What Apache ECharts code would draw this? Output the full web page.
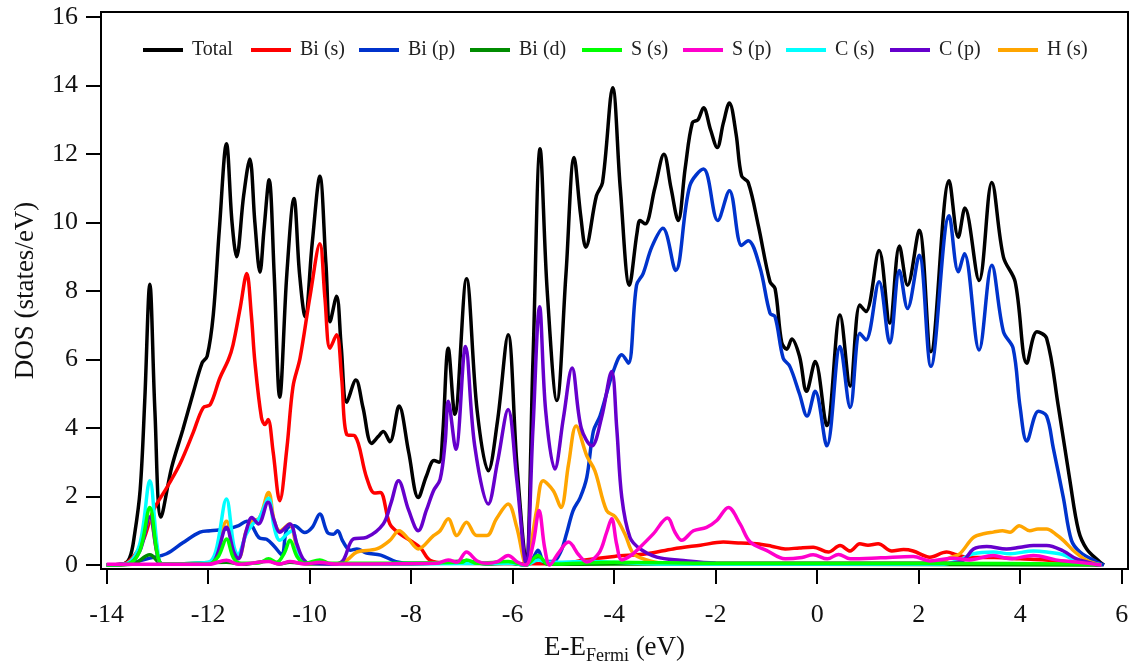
<!DOCTYPE html>
<html><head><meta charset="utf-8">
<script src="https://cdn.jsdelivr.net/npm/echarts@6/dist/echarts.min.js"></script>
<style>html,body{margin:0;padding:0;background:#fff}#c{width:1137px;height:670px}</style>
</head><body><div id="c"></div>
<script>
const seriesNames = ['Total','Bi (s)','Bi (p)','Bi (d)','S (s)','S (p)','C (s)','C (p)','H (s)'];
const seriesColors = ['#000000','#ff0000','#0033cc','#008c00','#00ff00','#ff00cc','#00ffff','#6600cc','#ffa500'];
const xTicks = [-14,-12,-10,-8,-6,-4,-2,0,2,4,6];
const yTicks = [0,2,4,6,8,10,12,14,16];

const dosTotal = [[-14,0],[-13.7,0.02],[-13.55,0.2],[-13.45,0.9],[-13.34,2.2],[-13.25,4.8],[-13.15,8.2],[-13.05,4.5],[-12.93,1.4],[-12.72,2.85],[-12.5,3.95],[-12.3,5.0],[-12.12,5.9],[-12.02,6.1],[-11.9,7.3],[-11.78,9.8],[-11.64,12.3],[-11.53,10.0],[-11.44,9.0],[-11.3,10.8],[-11.18,11.85],[-11.08,10.0],[-10.98,8.55],[-10.9,9.8],[-10.8,11.25],[-10.7,8.5],[-10.59,4.9],[-10.45,8.5],[-10.31,10.7],[-10.2,8.5],[-10.09,7.25],[-9.95,9.4],[-9.8,11.35],[-9.68,8.8],[-9.6,7.1],[-9.47,7.85],[-9.38,6.4],[-9.27,4.75],[-9.09,5.4],[-8.95,4.6],[-8.78,3.55],[-8.65,3.75],[-8.55,3.9],[-8.42,3.6],[-8.24,4.64],[-8.05,3.3],[-7.86,1.97],[-7.7,2.6],[-7.55,3.05],[-7.45,3.0],[-7.38,3.8],[-7.27,6.33],[-7.14,4.4],[-6.91,8.36],[-6.7,4.5],[-6.48,2.75],[-6.3,4.2],[-6.09,6.72],[-5.92,3.0],[-5.74,0.15],[-5.6,6.0],[-5.46,12.15],[-5.32,8.0],[-5.13,4.8],[-4.95,8.5],[-4.79,11.9],[-4.66,10.2],[-4.56,9.28],[-4.35,10.78],[-4.23,11.17],[-4.03,13.93],[-3.88,11.0],[-3.7,8.17],[-3.55,9.7],[-3.49,10.06],[-3.39,9.96],[-3.2,11.0],[-3.02,11.99],[-2.88,11.0],[-2.74,10.06],[-2.6,11.6],[-2.46,12.91],[-2.35,13.0],[-2.24,13.35],[-2.1,12.7],[-1.97,12.19],[-1.85,12.9],[-1.73,13.49],[-1.6,12.6],[-1.49,11.36],[-1.36,11.17],[-1.16,9.91],[-0.93,8.27],[-0.83,8.07],[-0.7,6.5],[-0.6,6.3],[-0.5,6.6],[-0.35,6.1],[-0.21,5.07],[-0.04,5.94],[0.19,4.07],[0.45,7.3],[0.65,5.22],[0.84,7.59],[0.96,7.4],[1.22,9.18],[1.43,7.06],[1.62,9.31],[1.78,8.17],[2.01,9.77],[2.24,6.23],[2.6,11.22],[2.78,9.57],[2.91,10.42],[3.19,8.31],[3.44,11.17],[3.67,8.99],[3.9,8.27],[4.13,5.89],[4.33,6.81],[4.52,6.62],[4.75,4.64],[4.98,2.46],[5.15,1.0],[5.31,0.47],[5.57,0.09],[5.65,0]];

const dosBiS = [[-14,0],[-13.7,0.02],[-13.5,0.2],[-13.28,0.72],[-13.08,1.59],[-12.8,2.3],[-12.56,2.94],[-12.3,3.85],[-12.1,4.59],[-11.96,4.68],[-11.77,5.46],[-11.6,6.0],[-11.51,6.43],[-11.37,7.5],[-11.24,8.51],[-11.15,7.3],[-11.08,5.94],[-10.95,4.3],[-10.88,4.1],[-10.82,4.25],[-10.72,3.3],[-10.59,1.88],[-10.45,3.4],[-10.33,5.2],[-10.19,6.04],[-9.99,7.88],[-9.8,9.38],[-9.7,7.8],[-9.6,6.33],[-9.47,6.72],[-9.37,5.46],[-9.27,3.81],[-9.11,3.77],[-8.88,2.56],[-8.72,2.1],[-8.61,2.12],[-8.42,1.2],[-8.22,0.91],[-7.83,0.52],[-7.63,0.14],[-7.3,0.06],[-5,0.04],[-4.61,0.14],[-4.0,0.25],[-3.36,0.33],[-2.84,0.47],[-2.3,0.58],[-1.85,0.67],[-1.5,0.64],[-1.19,0.62],[-0.9,0.55],[-0.63,0.47],[-0.35,0.5],[-0.08,0.52],[0.22,0.38],[0.45,0.57],[0.65,0.41],[0.84,0.62],[1.0,0.58],[1.2,0.62],[1.47,0.41],[1.7,0.45],[1.89,0.41],[2.22,0.23],[2.55,0.38],[2.75,0.3],[3.0,0.22],[3.5,0.22],[4.0,0.18],[4.5,0.15],[5.0,0.08],[5.6,0]];

const dosBiP = [[-14,0],[-13.7,0.02],[-13.4,0.1],[-13.15,0.2],[-12.82,0.33],[-12.5,0.65],[-12.16,0.96],[-11.96,1.0],[-11.64,1.05],[-11.4,1.15],[-11.24,1.28],[-11.14,1.15],[-11.0,0.8],[-10.85,0.75],[-10.7,0.55],[-10.55,0.3],[-10.45,1.05],[-10.3,1.15],[-10.1,0.95],[-9.95,1.1],[-9.8,1.49],[-9.65,0.95],[-9.53,0.9],[-9.45,1.0],[-9.35,0.7],[-9.2,0.43],[-9.07,0.47],[-8.88,0.35],[-8.6,0.29],[-8.3,0.1],[-8.0,0.05],[-6.0,0.05],[-5.75,0.0],[-5.6,0.2],[-5.5,0.43],[-5.38,0.1],[-5.2,0.1],[-5.05,0.4],[-4.94,0.91],[-4.81,1.59],[-4.67,1.97],[-4.54,2.56],[-4.41,3.91],[-4.28,4.35],[-4.12,5.17],[-4.02,5.65],[-3.85,6.14],[-3.72,5.89],[-3.56,8.17],[-3.43,8.51],[-3.26,9.28],[-3.04,9.83],[-2.79,8.6],[-2.51,11.07],[-2.24,11.56],[-1.96,10.06],[-1.73,10.93],[-1.49,9.33],[-1.36,9.47],[-1.13,8.7],[-0.93,7.35],[-0.83,7.25],[-0.67,6.04],[-0.54,5.8],[-0.35,5.0],[-0.2,4.35],[-0.04,5.07],[0.19,3.48],[0.45,6.38],[0.65,4.6],[0.84,6.77],[0.96,6.57],[1.22,8.27],[1.43,6.48],[1.62,8.6],[1.78,7.49],[2.01,9.04],[2.24,5.8],[2.6,10.2],[2.78,8.56],[2.9,9.09],[3.19,6.28],[3.44,8.75],[3.67,6.81],[3.86,6.33],[4.0,4.59],[4.13,3.62],[4.36,4.49],[4.52,4.35],[4.65,3.43],[4.85,1.97],[5.01,0.72],[5.18,0.38],[5.51,0.09],[5.65,0]];

const dosBiD = [[-14,0],[-13.5,0.02],[-13.15,0.3],[-12.9,0.02],[-11.64,0.08],[-11.3,0.02],[-10.81,0.12],[-10.6,0.03],[-10.39,0.08],[-10.0,0.03],[-8.0,0.02],[-6.91,0.12],[-6.5,0.03],[-6.09,0.06],[-5.74,0],[-5.5,0.18],[-5.3,0.02],[-4.0,0.03],[0,0.02],[5.6,0]];

const dosSS = [[-14,0],[-13.6,0.02],[-13.35,0.4],[-13.15,1.68],[-13.0,0.3],[-12.9,0.03],[-12.0,0.03],[-11.8,0.25],[-11.64,0.76],[-11.5,0.2],[-11.35,0.05],[-11.0,0.06],[-10.81,0.18],[-10.65,0.08],[-10.5,0.35],[-10.39,0.72],[-10.25,0.25],[-10.1,0.05],[-9.8,0.15],[-9.6,0.05],[-7.0,0.08],[-6.91,0.15],[-6.7,0.05],[-6.09,0.1],[-5.74,0],[-5.5,0.28],[-5.3,0.03],[-4.0,0.08],[-2.0,0.05],[2.0,0.05],[5.5,0.02],[5.6,0]];

const dosSP = [[-14,0.02],[-12,0.02],[-11.64,0.14],[-11.4,0.02],[-10.81,0.1],[-10.6,0.03],[-10.39,0.1],[-10.1,0.03],[-9.8,0.08],[-9.5,0.03],[-7.5,0.05],[-7.27,0.15],[-7.1,0.08],[-6.91,0.38],[-6.7,0.12],[-6.5,0.05],[-6.3,0.1],[-6.09,0.28],[-5.9,0.08],[-5.74,0],[-5.6,0.6],[-5.48,1.59],[-5.37,0.5],[-5.27,0],[-5.1,0.35],[-4.9,0.67],[-4.7,0.3],[-4.54,0.09],[-4.3,0.35],[-4.15,0.95],[-4.05,1.35],[-3.95,0.6],[-3.85,0.15],[-3.65,0.3],[-3.49,0.52],[-3.23,0.91],[-2.95,1.37],[-2.8,0.95],[-2.67,0.72],[-2.44,1.0],[-2.18,1.1],[-1.98,1.3],[-1.75,1.68],[-1.52,1.2],[-1.32,0.67],[-1.0,0.43],[-0.63,0.18],[-0.3,0.22],[-0.08,0.3],[0.2,0.18],[0.42,0.31],[0.65,0.18],[1.25,0.21],[1.89,0.25],[2.22,0.12],[2.68,0.2],[3.0,0.15],[3.47,0.28],[3.8,0.18],[4.26,0.28],[4.7,0.15],[5.1,0.09],[5.6,0]];

const dosCS = [[-14,0],[-13.6,0.05],[-13.35,0.6],[-13.15,2.46],[-13.0,0.5],[-12.9,0.03],[-12.0,0.08],[-11.85,0.4],[-11.64,1.93],[-11.5,0.6],[-11.42,0.3],[-11.25,0.9],[-11.12,1.2],[-11.0,1.35],[-10.81,1.95],[-10.7,1.1],[-10.59,0.72],[-10.45,0.9],[-10.35,1.0],[-10.2,0.3],[-10.05,0.05],[-9.0,0.03],[-6.0,0.05],[-5.74,0],[-5.5,0.15],[-5.3,0.08],[-4.5,0.1],[-4.0,0.08],[-3.0,0.03],[2.5,0.03],[2.8,0.15],[3.08,0.33],[3.47,0.38],[3.8,0.33],[4.26,0.41],[4.52,0.38],[4.85,0.3],[5.1,0.12],[5.5,0.02],[5.6,0]];

const dosCP = [[-14,0],[-13.6,0.02],[-13.35,0.4],[-13.15,1.4],[-13.0,0.3],[-12.9,0.02],[-12.0,0.02],[-11.85,0.2],[-11.64,1.1],[-11.5,0.4],[-11.41,0.18],[-11.25,1.0],[-11.14,1.39],[-11.01,1.2],[-10.82,1.83],[-10.7,1.3],[-10.59,0.96],[-10.39,1.2],[-10.25,0.6],[-10.13,0.18],[-10.0,0.05],[-9.5,0.03],[-9.34,0.14],[-9.14,0.76],[-8.88,0.81],[-8.55,1.2],[-8.4,1.8],[-8.25,2.46],[-8.05,1.6],[-7.86,1.0],[-7.7,1.6],[-7.56,2.17],[-7.43,2.5],[-7.33,3.6],[-7.27,4.78],[-7.12,3.38],[-6.93,6.38],[-6.75,3.5],[-6.48,1.78],[-6.3,3.0],[-6.09,4.54],[-5.92,2.5],[-5.74,0.05],[-5.6,4.0],[-5.47,7.54],[-5.35,4.5],[-5.17,2.8],[-5.0,4.3],[-4.83,5.75],[-4.65,4.0],[-4.44,3.48],[-4.25,4.3],[-4.05,5.65],[-3.95,4.0],[-3.85,1.97],[-3.69,0.81],[-3.49,0.47],[-3.16,0.23],[-2.7,0.14],[-2.0,0.06],[2.5,0.05],[2.88,0.14],[3.08,0.47],[3.34,0.54],[3.73,0.47],[4.0,0.52],[4.26,0.57],[4.52,0.57],[4.85,0.41],[5.11,0.18],[5.5,0.02],[5.6,0]];

const dosHS = [[-14,0],[-13.6,0.03],[-13.35,0.5],[-13.15,1.35],[-13.0,0.3],[-12.9,0.02],[-12.0,0.03],[-11.85,0.3],[-11.64,1.28],[-11.5,0.4],[-11.4,0.2],[-11.25,1.0],[-11.14,1.3],[-11.0,1.35],[-10.81,2.12],[-10.7,1.3],[-10.59,1.0],[-10.4,1.2],[-10.25,0.5],[-10.1,0.05],[-9.5,0.03],[-9.27,0.14],[-9.07,0.38],[-8.68,0.47],[-8.42,0.72],[-8.24,1.0],[-8.05,0.75],[-7.86,0.47],[-7.56,0.86],[-7.43,1.0],[-7.27,1.35],[-7.1,0.86],[-6.91,1.25],[-6.71,0.86],[-6.51,0.86],[-6.32,1.35],[-6.09,1.78],[-5.92,1.1],[-5.74,0.02],[-5.53,1.59],[-5.4,2.46],[-5.2,2.17],[-5.05,1.68],[-4.9,2.94],[-4.75,4.06],[-4.54,3.19],[-4.38,2.75],[-4.15,1.59],[-3.98,1.41],[-3.79,0.91],[-3.62,0.33],[-3.36,0.15],[-3.0,0.05],[2.4,0.05],[2.6,0.2],[2.81,0.33],[3.08,0.81],[3.3,0.92],[3.47,0.96],[3.65,1.0],[3.8,0.96],[3.98,1.15],[4.19,1.0],[4.35,1.05],[4.52,1.05],[4.7,0.9],[4.85,0.72],[5.08,0.38],[5.31,0.14],[5.6,0]];

const seriesData = [dosTotal,dosBiS,dosBiP,dosBiD,dosSS,dosSP,dosCS,dosCP,dosHS];
const drawOrder = [0,1,2,3,8,6,7,4,5];
const legendLeft = [143,251,359,470,582,683,786,890,998];

const FONT = 'Liberation Serif';
const chart = echarts.init(document.getElementById('c'), null, {renderer:'canvas'});

const series = drawOrder.map((i, k) => ({
  name: seriesNames[i], type: 'line', data: seriesData[i],
  smooth: 0.35, showSymbol: false, symbol: 'none',
  lineStyle: {color: seriesColors[i], width: 3.5},
  itemStyle: {color: seriesColors[i]},
  z: 2 + k, animation: false
}));

const legends = seriesNames.map((n, i) => ({
  data: [n], left: legendLeft[i], top: 40, icon: 'rect', itemWidth: 40, itemHeight: 4,
  textStyle: {fontFamily: FONT, fontSize: 20, color: '#222', padding: [0,0,0,4]},
  selectedMode: false, padding: 0
}));

chart.setOption({
  backgroundColor: '#fff',
  animation: false,
  grid: {left: 101, right: 9, top: 12, bottom: 98, show: true, borderColor: '#000', borderWidth: 2, containLabel: false},
  legend: legends,
  xAxis: {
    type: 'value', min: -14.112, max: 6.124,
    axisLine: {show: true, onZero: false, lineStyle: {color: '#000', width: 2}},
    axisTick: {show: true, inside: false, length: 15, customValues: xTicks, lineStyle: {color: '#000', width: 2}},
    axisLabel: {customValues: xTicks, fontFamily: FONT, fontSize: 26, color: '#111', margin: 33},
    splitLine: {show: false},
    name: '{a|E-E}{b|Fermi}{a| (eV)}', nameLocation: 'middle', nameGap: 62,
    nameTextStyle: {fontFamily: FONT, fontSize: 27, color: '#111',
      rich: {a: {fontFamily: FONT, fontSize: 27, color: '#111'}, b: {fontFamily: FONT, fontSize: 18, color: '#111', padding: [16,0,0,0]}}}
  },
  yAxis: {
    type: 'value', min: -0.116, max: 16.145,
    axisLine: {show: true, onZero: false, lineStyle: {color: '#000', width: 2}},
    axisTick: {show: true, inside: false, length: 15, customValues: yTicks, lineStyle: {color: '#000', width: 2}},
    axisLabel: {customValues: yTicks, fontFamily: FONT, fontSize: 26, color: '#111', margin: 23},
    splitLine: {show: false},
    name: 'DOS (states/eV)', nameLocation: 'middle', nameGap: 62,
    nameTextStyle: {fontFamily: FONT, fontSize: 27, color: '#111'}
  },
  series: series
});
</script></body></html>
